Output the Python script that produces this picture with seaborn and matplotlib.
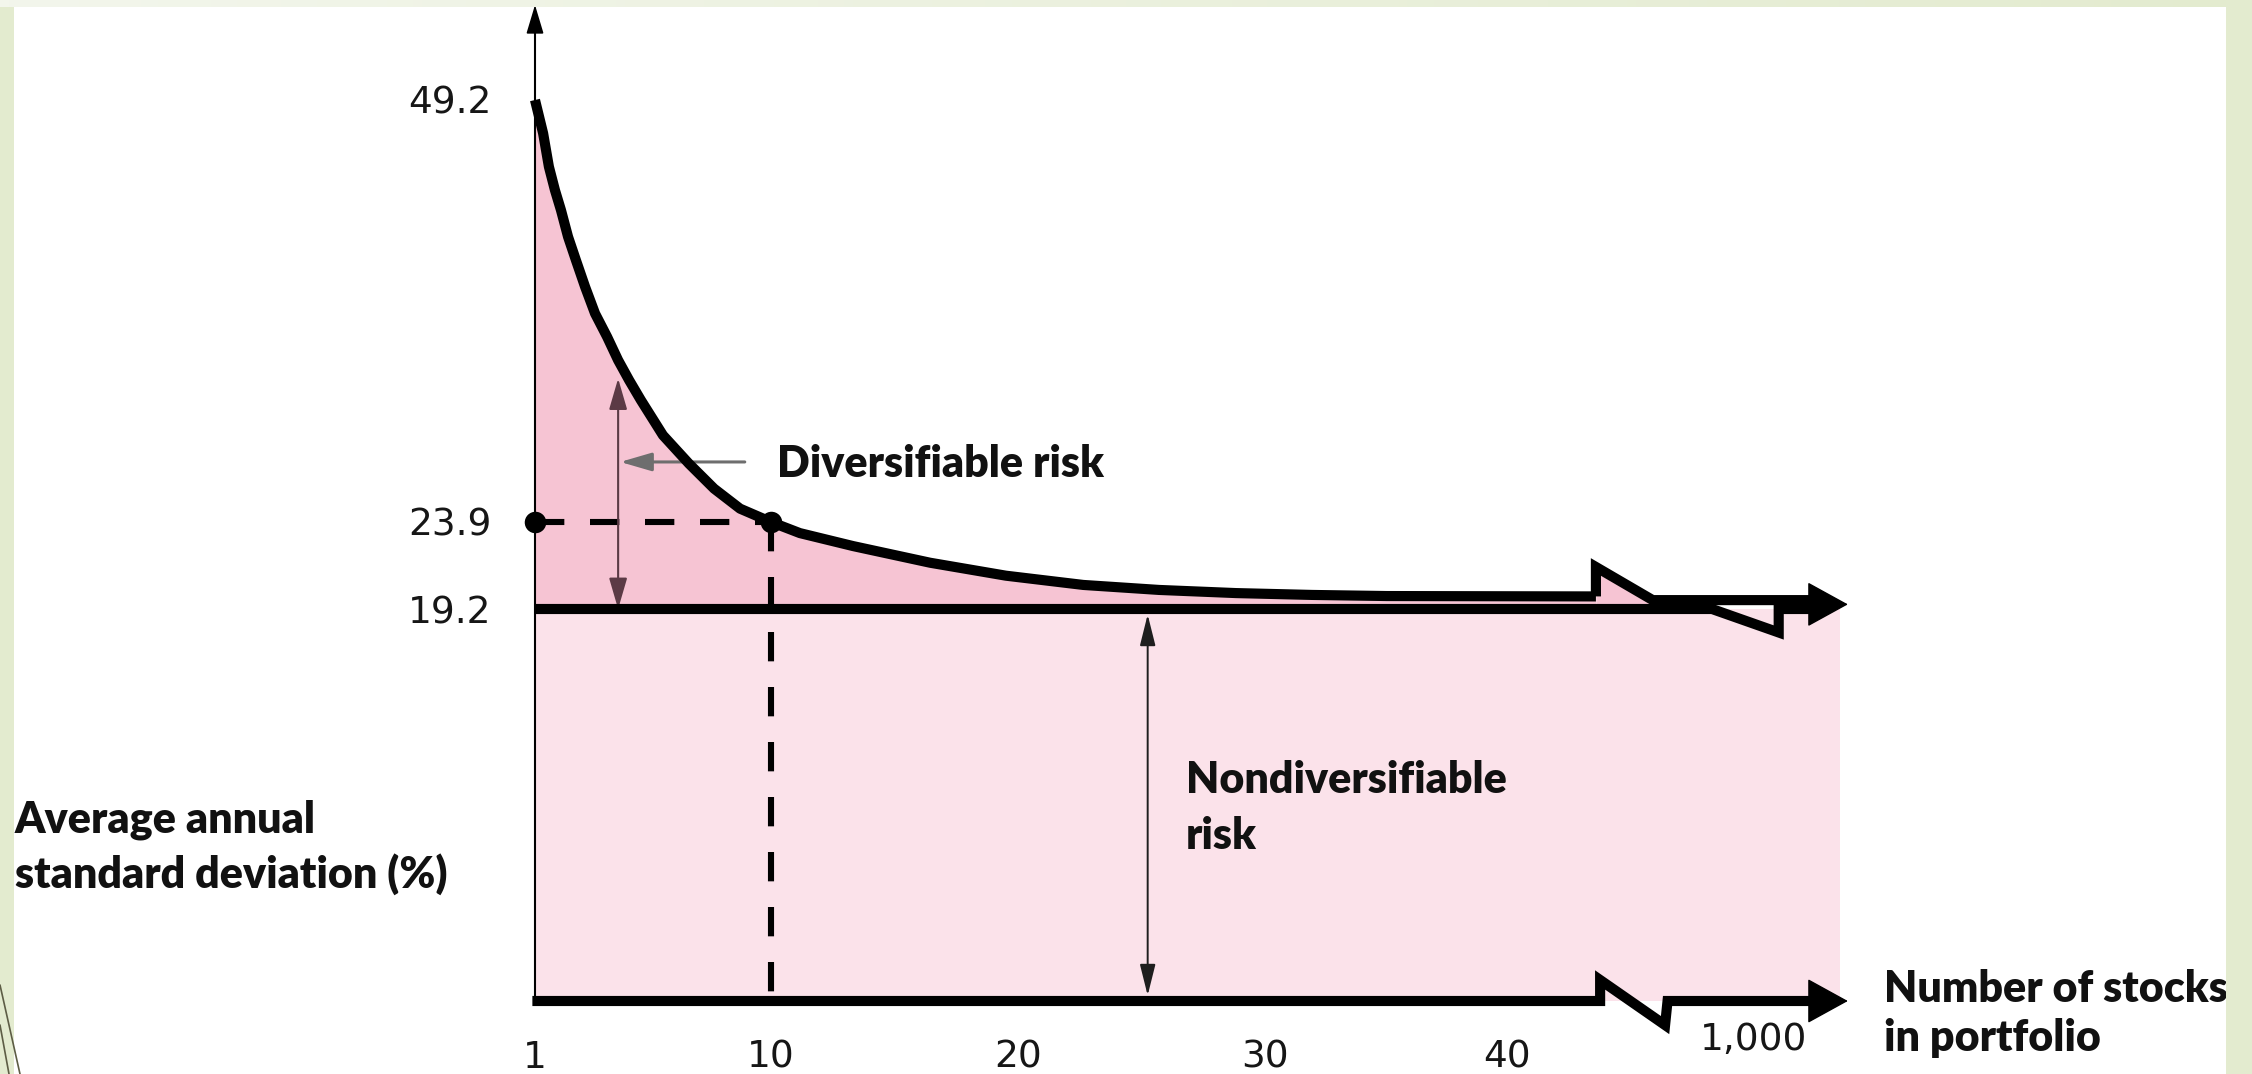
import numpy as np
import pandas as pd
import matplotlib
matplotlib.use("Agg")
import matplotlib.pyplot as plt
import seaborn as sns
from matplotlib.patches import Rectangle
from matplotlib.lines import Line2D
from matplotlib.colors import LinearSegmentedColormap

# ---------------- data ----------------
stocks = [1, 1.31, 1.53, 1.76, 1.99, 2.26, 2.56, 2.91, 3.29, 3.75, 4.17, 4.59, 5.04,
          5.88, 6.87, 7.83, 8.82, 10, 11.17, 13.32, 16.44, 19.51, 22.64, 25.71,
          28.83, 31.94, 35.04, 43.6]
std_dev = [49.2, 47.2, 45.2, 43.8, 42.6, 41.0, 39.6, 38.0, 36.4, 35.0, 33.6, 32.4, 31.2,
           29.1, 27.4, 25.9, 24.7, 23.9, 23.3, 22.6, 21.7, 21.0, 20.5, 20.23,
           20.06, 19.96, 19.9, 19.88]
y_tick_values = [19.2, 23.9, 49.2]
y_tick_labels = ["19.2", "23.9", "49.2"]
x_tick_values = [1, 10, 20, 30, 40]
x_tick_labels = ["1", "10", "20", "30", "40"]
x_large_pos = 50          # axis position of the 1,000-stock tick (after the break)
x_large_label = "1,000"
market_risk = 19.2         # nondiversifiable level
ten_stocks = 10
ten_stock_risk = 23.9

df = pd.DataFrame({"stocks": stocks, "std_dev": std_dev})

# ---------------- layout constants (pixels of the 2252x1074 canvas) ----------------
W, H = 2252, 1074
X_KNOT_VAL = [1, 10, 20, 30, 40, 50]
X_KNOT_PX = [535, 771, 1018, 1265, 1507, 1754]
Y_KNOT_VAL = [0, 19.2, 23.9, 49.2]
Y_KNOT_PX = [H - 1001, H - 609, H - 522, H - 100]


def piecewise(vals, pxs):
    v = np.asarray(vals, float)
    p = np.asarray(pxs, float)
    s0 = (p[1] - p[0]) / (v[1] - v[0])
    s1 = (p[-1] - p[-2]) / (v[-1] - v[-2])

    def fwd(x):
        x = np.asarray(x, float)
        y = np.interp(x, v, p)
        y = np.where(x < v[0], p[0] + (x - v[0]) * s0, y)
        y = np.where(x > v[-1], p[-1] + (x - v[-1]) * s1, y)
        return y

    def inv(y):
        y = np.asarray(y, float)
        x = np.interp(y, p, v)
        x = np.where(y < p[0], v[0] + (y - p[0]) / s0, x)
        x = np.where(y > p[-1], v[-1] + (y - p[-1]) / s1, x)
        return x

    return fwd, inv


fx, gx = piecewise(X_KNOT_VAL, X_KNOT_PX)
fy, gy = piecewise(Y_KNOT_VAL, Y_KNOT_PX)

sns.set_theme(style="white")
plt.rcParams["font.family"] = ["Lato", "DejaVu Sans"]

DARK_PINK = "#f6c4d3"
LIGHT_PINK = "#fbe2ea"
GREEN = "#e3ebcf"
LW = 7.3

fig = plt.figure(figsize=(W / 100, H / 100), dpi=100)
fig.patch.set_facecolor("white")
ax = fig.add_axes([0, 0, 1, 1])
ax.set_facecolor("none")
ax.set_xscale("function", functions=(fx, gx))
ax.set_yscale("function", functions=(fy, gy))
ax.set_xlim(float(gx(0)), float(gx(W)))
ax.set_ylim(float(gy(0)), float(gy(H)))

x_end = 53.48     # right edge of shaded area
x_tip = 53.8      # arrow tips
cont_y = 19.68    # curve continuation after the break

# ---------------- shaded areas ----------------
ax.fill_between([1, x_end], 0, market_risk, color=LIGHT_PINK, lw=0, zorder=1)
ax.fill_between(df["stocks"], df["std_dev"], market_risk, color=DARK_PINK, lw=0, zorder=1)
ax.fill_between([43.6, 43.6, 45.9], [19.88, 21.47, cont_y], market_risk,
                color=DARK_PINK, lw=0, zorder=1)

# ---------------- reference dashed lines & dots ----------------
ax.plot([1, ten_stocks], [ten_stock_risk, ten_stock_risk], color="black", lw=4.4,
        dashes=(4.8, 4.2), dash_capstyle="butt", zorder=3)
ax.plot([ten_stocks, ten_stocks], [ten_stock_risk, 0], color="black", lw=4.4,
        dashes=(4.8, 4.2), dash_capstyle="butt", zorder=3)

# ---------------- 19.2 line with break ----------------
ax.plot([1, 48.3, 51.0, 51.0, 52.3], [market_risk, market_risk, 18.05, market_risk, market_risk],
        color="black", lw=LW, solid_joinstyle="miter", solid_capstyle="butt", zorder=4)

# ---------------- curve (seaborn) + break + continuation ----------------
sns.lineplot(data=df, x="stocks", y="std_dev", color="black", lw=LW, ax=ax,
             sort=False, estimator=None, zorder=5)
ax.lines[-1].set_solid_joinstyle("round")
ax.lines[-1].set_solid_capstyle("butt")
ax.plot([43.6, 43.6, 45.9, 52.3], [19.88, 21.47, cont_y, cont_y], color="black", lw=LW,
        solid_joinstyle="miter", solid_capstyle="butt", zorder=5)
ax.annotate("", xy=(x_tip, 19.45), xytext=(52.0, 19.45),
            arrowprops=dict(arrowstyle="-|>,head_length=1.0,head_width=0.55",
                            mutation_scale=27, lw=1.0, color="black",
                            shrinkA=0, shrinkB=0), zorder=6)

# ---------------- x axis with break ----------------
ax.plot([0.9, 43.77, 43.77, 46.4, 46.5, 52.3], [0, 0, 1.03, -1.18, 0, 0], color="black",
        lw=LW, solid_joinstyle="miter", solid_capstyle="butt", zorder=5)
ax.annotate("", xy=(x_tip, 0), xytext=(52.0, 0),
            arrowprops=dict(arrowstyle="-|>,head_length=1.0,head_width=0.55",
                            mutation_scale=27, lw=1.0, color="black",
                            shrinkA=0, shrinkB=0), zorder=6)

ax.scatter([1, ten_stocks], [ten_stock_risk, ten_stock_risk], s=240, color="black",
           zorder=7, linewidths=0)

# ---------------- y axis (left spine) ----------------
for side in ["top", "right", "bottom"]:
    ax.spines[side].set_visible(False)
ax.spines["left"].set_position(("data", 1))
ax.spines["left"].set_bounds(0, 54.0)
ax.spines["left"].set_linewidth(1.5)
ax.spines["left"].set_color("black")
ax.spines["left"].set_zorder(6)
ax.spines["bottom"].set_position(("data", 0))
ax.annotate("", xy=(1, 54.9), xytext=(1, 53.0),
            arrowprops=dict(arrowstyle="-|>,head_length=1.0,head_width=0.3",
                            mutation_scale=18, lw=1.2, color="black",
                            shrinkA=0, shrinkB=0), zorder=6)

# ticks
TICK_FONT = "DejaVu Sans"
ax.set_yticks(y_tick_values)
ax.set_yticklabels(y_tick_labels, fontfamily=TICK_FONT)
ax.set_yticks([], minor=True)
ax.set_xticks(x_tick_values + [x_large_pos])
ax.set_xticklabels(x_tick_labels + [""], fontfamily=TICK_FONT)
ax.xaxis.remove_overlapping_locs = False
ax.set_xticks([20, 30, 40, x_large_pos], minor=True)
ax.tick_params(axis="y", which="major", left=True, length=0, pad=31.5,
               labelsize=27, labelcolor="#161616")
ax.tick_params(axis="x", which="major", bottom=True, length=0, pad=28,
               labelsize=27, labelcolor="#161616")
ax.tick_params(axis="x", which="minor", bottom=True, direction="in", length=27,
               width=1.3, color="#2a2a2a", labelbottom=False)
ax.set_xlabel("")
ax.set_ylabel("")
ax.text(x_large_pos, -2.4, x_large_label, ha="center", va="baseline", fontsize=27,
        fontfamily=TICK_FONT, color="#161616", zorder=6)

# ---------------- risk arrows ----------------
ax.annotate("", xy=(4.17, 32.5), xytext=(4.17, market_risk),
            arrowprops=dict(arrowstyle="<|-|>,head_length=1.2,head_width=0.35",
                            mutation_scale=16, lw=1.5, color="#5b3a45",
                            shrinkA=0, shrinkB=0), zorder=3)
ax.annotate("", xy=(4.25, 27.5), xytext=(9.0, 27.5),
            arrowprops=dict(arrowstyle="-|>,head_length=1.2,head_width=0.35",
                            mutation_scale=16, lw=2.2, color="#6e6e6e",
                            shrinkA=0, shrinkB=0), zorder=3)
ax.annotate("", xy=(25.25, market_risk), xytext=(25.25, 0),
            arrowprops=dict(arrowstyle="<|-|>,head_length=1.2,head_width=0.3",
                            mutation_scale=16, lw=1.4, color="#1e1e1e",
                            shrinkA=4, shrinkB=4), zorder=3)

bold = dict(fontsize=31, fontweight="heavy", color="#111111", va="baseline", ha="left")
ax.text(10.24, 26.6, "Diversifiable risk", zorder=8, **bold)
ax.text(26.8, 10.2, "Nondiversifiable", zorder=8, **bold)
ax.text(26.8, 7.45, "risk", zorder=8, **bold)


def fpx(x, y):
    return x / W, 1 - y / H


fig.text(*fpx(15, 833), "Average annual", **bold)
fig.text(*fpx(15, 888), "standard deviation (%)", **bold)
fig.text(*fpx(1884, 1002), "Number of stocks", **bold)
fig.text(*fpx(1884, 1051), "in portfolio", **bold)

# ---------------- slide frame ----------------
fig.patches.append(Rectangle((0, 0), 14 / W, 1, transform=fig.transFigure,
                             color=GREEN, lw=0, zorder=10))
fig.patches.append(Rectangle((2226 / W, 0), 1, 1, transform=fig.transFigure,
                             color=GREEN, lw=0, zorder=10))
band = fig.add_axes([0, 1 - 7 / H, 1, 7 / H], zorder=20)
grad = np.linspace(0, 1, 256)[None, :]
cmap = LinearSegmentedColormap.from_list("g", ["#f3f6ec", GREEN])
band.imshow(grad, aspect="auto", cmap=cmap, extent=[0, 1, 0, 1])
band.set_axis_off()
fig.lines.append(Line2D([0 / W, 20 / W], [1 - 985 / H, 0], transform=fig.transFigure,
                        color="#5d5d45", lw=1.2, zorder=11))
fig.lines.append(Line2D([0 / W, 9 / W], [1 - 1025 / H, 0], transform=fig.transFigure,
                        color="#5d5d45", lw=1.2, zorder=11))

fig.savefig("out.png", dpi=100, facecolor="white")
